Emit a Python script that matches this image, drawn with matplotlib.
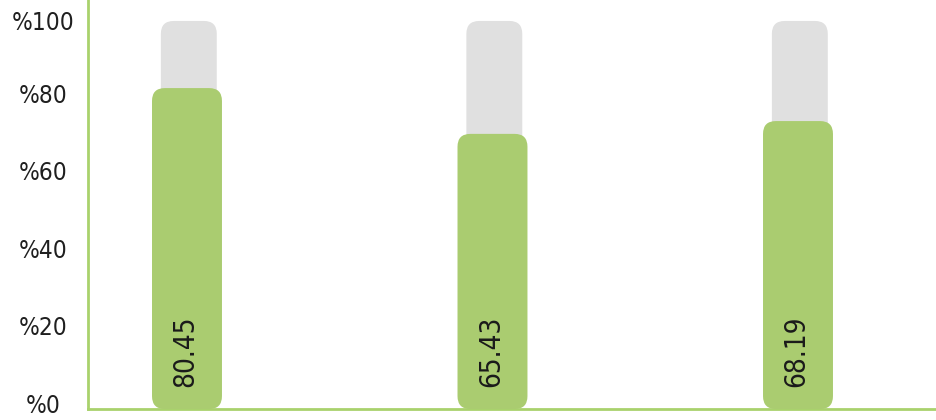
import matplotlib
matplotlib.use("Agg")
import matplotlib.pyplot as plt
from matplotlib.patches import FancyBboxPatch
from matplotlib.transforms import ScaledTranslation

# data
labels = ["80.45", "65.43", "68.19"]
bar_heights = [82.7, 70.9, 74.2]   # drawn heights as they appear in the chart
track_max = 100
y_ticks = [0, 20, 40, 60, 80, 100]
y_tick_labels = ["%0", "%20", "%40", "%60", "%80", "%100"]

green = "#aacc70"
track = "#e0e0e0"
axis_green = "#a9d26c"

plt.rcParams['font.family'] = ['DejaVu Sans']
plt.rcParams['font.stretch'] = 'condensed'

fig = plt.figure(figsize=(9.37, 4.2), dpi=100)
ax = fig.add_axes([88 / 937, 11 / 420, 849 / 937, 409 / 420])
ax.set_xlim(-0.324, 2.455)
ax.set_ylim(0, 105.4)

# aspect so the rounded corners look circular on screen
aspect = (105.4 / 409) / (2.779 / 849)
r = 0.042

for i, (h, lab) in enumerate(zip(bar_heights, labels)):
    tw = 0.183
    ax.add_patch(FancyBboxPatch((i + 0.006 - tw / 2, 0), tw, track_max,
                                boxstyle=f"round,pad=0,rounding_size={r}",
                                mutation_aspect=aspect, fc=track, ec="none",
                                zorder=2))
    bw = 0.229
    ax.add_patch(FancyBboxPatch((i - bw / 2, 0), bw, h,
                                boxstyle=f"round,pad=0,rounding_size={r}",
                                mutation_aspect=aspect, fc=green, ec="none",
                                zorder=3))
    ax.text(i - 0.005, 14.8, lab, rotation=90, ha="center", va="center",
            fontsize=20, color="#1a1a1a", zorder=4)

ax.set_xticks([])
ax.set_yticks(y_ticks)
ax.set_yticklabels(y_tick_labels, fontsize=17.5, color="#1f1f1f", ha="center")
ax.tick_params(axis="y", length=0, pad=32)

# nudge the lower labels up a little, like the original
for lbl in ax.get_yticklabels()[:-1]:
    lbl.set_transform(lbl.get_transform() + ScaledTranslation(0, 4 / 72, fig.dpi_scale_trans))

for s in ["top", "right"]:
    ax.spines[s].set_visible(False)
ax.spines["left"].set_color(axis_green)
ax.spines["bottom"].set_color(axis_green)
ax.spines["left"].set_linewidth(2)
ax.spines["bottom"].set_linewidth(2)
ax.patch.set_alpha(0)

fig.savefig("out.png", dpi=100)
